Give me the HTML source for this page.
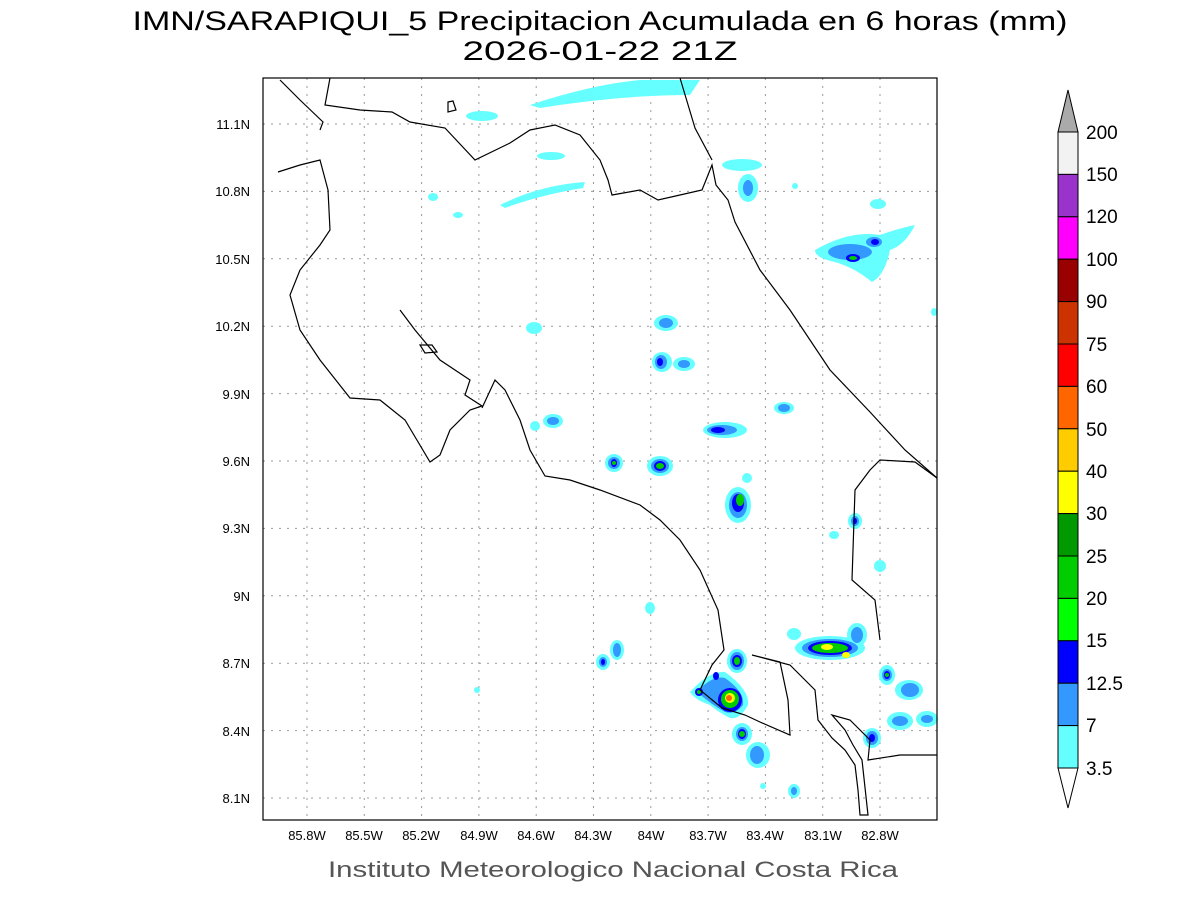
<!DOCTYPE html>
<html><head><meta charset="utf-8"><style>
body{margin:0;background:#fff;width:1200px;height:900px;overflow:hidden}
svg{display:block}
text{font-family:"Liberation Sans",sans-serif;fill:#000}
</style></head><body>
<svg width="1200" height="900" viewBox="0 0 1200 900">
<text x="600" y="30" font-size="27" text-anchor="middle" textLength="935" lengthAdjust="spacingAndGlyphs">IMN/SARAPIQUI_5 Precipitacion Acumulada en 6 horas (mm)</text>
<text x="600" y="60" font-size="27" text-anchor="middle" textLength="275" lengthAdjust="spacingAndGlyphs">2026-01-22 21Z</text>
<text x="613" y="877" font-size="22" text-anchor="middle" style="fill:#555" textLength="570" lengthAdjust="spacingAndGlyphs">Instituto Meteorologico Nacional Costa Rica</text>

<g stroke="#999" stroke-width="1" stroke-dasharray="2,6">
<line x1="307" y1="78" x2="307" y2="820"/><line x1="364.3" y1="78" x2="364.3" y2="820"/><line x1="421.6" y1="78" x2="421.6" y2="820"/><line x1="478.9" y1="78" x2="478.9" y2="820"/><line x1="536.2" y1="78" x2="536.2" y2="820"/><line x1="593.5" y1="78" x2="593.5" y2="820"/><line x1="650.8" y1="78" x2="650.8" y2="820"/><line x1="708.1" y1="78" x2="708.1" y2="820"/><line x1="765.4" y1="78" x2="765.4" y2="820"/><line x1="822.7" y1="78" x2="822.7" y2="820"/><line x1="880" y1="78" x2="880" y2="820"/>
<line x1="263" y1="124" x2="937" y2="124"/><line x1="263" y1="191.4" x2="937" y2="191.4"/><line x1="263" y1="258.8" x2="937" y2="258.8"/><line x1="263" y1="326.2" x2="937" y2="326.2"/><line x1="263" y1="393.6" x2="937" y2="393.6"/><line x1="263" y1="461" x2="937" y2="461"/><line x1="263" y1="528.4" x2="937" y2="528.4"/><line x1="263" y1="595.8" x2="937" y2="595.8"/><line x1="263" y1="663.2" x2="937" y2="663.2"/><line x1="263" y1="730.6" x2="937" y2="730.6"/><line x1="263" y1="798" x2="937" y2="798"/>
</g>

<g>
<g fill="#66ffff">
<path d="M530 105 Q590 85 640 80 L700 80 L690 95 Q620 95 540 108 Z"/>
<ellipse cx="482" cy="116" rx="16" ry="5"/>
<ellipse cx="551" cy="156" rx="14" ry="4"/>
<path d="M500 205 Q540 185 585 182 L583 188 Q540 195 505 208 Z"/>
<ellipse cx="433" cy="197" rx="5" ry="4"/><ellipse cx="458" cy="215" rx="5" ry="3"/>
<ellipse cx="742" cy="165" rx="20" ry="6"/><ellipse cx="748" cy="188" rx="10" ry="14"/>
<ellipse cx="795" cy="186" rx="3" ry="3"/><ellipse cx="878" cy="204" rx="8" ry="5"/>
<path d="M815 250 Q850 230 880 235 Q900 228 915 225 Q905 245 890 250 Q885 275 872 282 Q855 268 835 262 Q815 258 815 250 Z"/>
<ellipse cx="534" cy="328" rx="8" ry="6"/><ellipse cx="666" cy="323" rx="12" ry="8"/>
<ellipse cx="662" cy="362" rx="10" ry="10"/><ellipse cx="684" cy="364" rx="11" ry="7"/>
<ellipse cx="784" cy="408" rx="10" ry="6"/><ellipse cx="553" cy="421" rx="10" ry="7"/><ellipse cx="535" cy="426" rx="5" ry="5"/>
<ellipse cx="725" cy="430" rx="22" ry="8"/><ellipse cx="614" cy="463" rx="9" ry="9"/><ellipse cx="660" cy="466" rx="13" ry="10"/>
<ellipse cx="738" cy="505" rx="13" ry="18"/><ellipse cx="747" cy="478" rx="5" ry="5"/><ellipse cx="855" cy="521" rx="7" ry="8"/>
<ellipse cx="834" cy="535" rx="5" ry="4"/><ellipse cx="880" cy="566" rx="6" ry="6"/><ellipse cx="650" cy="608" rx="5" ry="6"/>
<ellipse cx="794" cy="634" rx="7" ry="6"/><ellipse cx="617" cy="650" rx="7" ry="10"/><ellipse cx="603" cy="662" rx="7" ry="8"/>
<ellipse cx="737" cy="661" rx="10" ry="12"/><ellipse cx="830" cy="648" rx="35" ry="12"/><ellipse cx="857" cy="635" rx="10" ry="12"/>
<path d="M690 692 Q710 670 725 672 Q750 690 748 705 Q740 720 730 718 Q718 712 710 705 Q695 700 690 692 Z"/>
<ellipse cx="742" cy="734" rx="10" ry="11"/><ellipse cx="758" cy="755" rx="12" ry="13"/><ellipse cx="887" cy="675" rx="8" ry="10"/>
<ellipse cx="909" cy="690" rx="14" ry="10"/><ellipse cx="900" cy="721" rx="13" ry="9"/><ellipse cx="927" cy="719" rx="11" ry="8"/>
<ellipse cx="872" cy="738" rx="9" ry="10"/><ellipse cx="794" cy="791" rx="6" ry="7"/><ellipse cx="763" cy="786" rx="3" ry="3"/>
<ellipse cx="934" cy="312" rx="3" ry="4"/><ellipse cx="477" cy="690" rx="3" ry="3"/>
</g>
<g fill="#3399ff">
<ellipse cx="748" cy="188" rx="5" ry="8"/><ellipse cx="850" cy="252" rx="22" ry="8"/><ellipse cx="874" cy="242" rx="8" ry="5"/>
<ellipse cx="666" cy="323" rx="7" ry="5"/><ellipse cx="661" cy="362" rx="6" ry="7"/><ellipse cx="684" cy="364" rx="6" ry="4"/>
<ellipse cx="784" cy="408" rx="6" ry="4"/><ellipse cx="553" cy="421" rx="6" ry="4"/><ellipse cx="722" cy="430" rx="15" ry="5"/>
<ellipse cx="614" cy="463" rx="6" ry="6"/><ellipse cx="660" cy="466" rx="9" ry="7"/><ellipse cx="738" cy="505" rx="9" ry="13"/>
<ellipse cx="855" cy="521" rx="4" ry="5"/><ellipse cx="617" cy="650" rx="4" ry="7"/><ellipse cx="603" cy="662" rx="4" ry="5"/>
<ellipse cx="737" cy="661" rx="7" ry="9"/><ellipse cx="830" cy="648" rx="28" ry="9"/><ellipse cx="857" cy="635" rx="6" ry="8"/>
<path d="M697 692 Q712 675 725 678 Q745 692 743 705 Q735 715 725 712 Q712 705 697 692 Z"/>
<ellipse cx="742" cy="734" rx="6" ry="7"/><ellipse cx="757" cy="755" rx="7" ry="9"/><ellipse cx="887" cy="675" rx="5" ry="6"/>
<ellipse cx="910" cy="690" rx="9" ry="7"/><ellipse cx="900" cy="721" rx="8" ry="5"/><ellipse cx="927" cy="719" rx="6" ry="4"/>
<ellipse cx="872" cy="738" rx="6" ry="7"/><ellipse cx="794" cy="791" rx="3" ry="4"/>
</g>
<g fill="#0000ff">
<ellipse cx="853" cy="258" rx="7" ry="4"/><ellipse cx="875" cy="242" rx="4" ry="3"/><ellipse cx="660" cy="362" rx="3" ry="4"/>
<ellipse cx="718" cy="430" rx="7" ry="3"/><ellipse cx="614" cy="463" rx="3" ry="4"/><ellipse cx="660" cy="466" rx="6" ry="5"/>
<ellipse cx="738" cy="503" rx="6" ry="9"/><ellipse cx="855" cy="521" rx="2" ry="3"/><ellipse cx="603" cy="662" rx="2" ry="3"/>
<ellipse cx="737" cy="661" rx="5" ry="6"/><ellipse cx="830" cy="648" rx="22" ry="7"/><ellipse cx="730" cy="700" rx="12" ry="12"/>
<ellipse cx="716" cy="676" rx="3" ry="4"/><ellipse cx="699" cy="692" rx="4" ry="4"/><ellipse cx="742" cy="734" rx="4" ry="5"/>
<ellipse cx="887" cy="675" rx="3" ry="4"/><ellipse cx="872" cy="738" rx="3" ry="4"/>
</g>
<g fill="#00cc00">
<ellipse cx="853" cy="258" rx="4" ry="2"/><ellipse cx="660" cy="466" rx="4" ry="3"/><ellipse cx="740" cy="500" rx="4" ry="6"/>
<ellipse cx="737" cy="661" rx="3" ry="4"/><ellipse cx="830" cy="648" rx="18" ry="5"/><ellipse cx="730" cy="699" rx="9" ry="9"/>
<ellipse cx="742" cy="734" rx="3" ry="3"/><ellipse cx="699" cy="692" rx="2" ry="2"/><ellipse cx="614" cy="463" rx="2" ry="2"/><ellipse cx="887" cy="675" rx="2" ry="2"/>
</g>
<g fill="#ffff00"><ellipse cx="827" cy="647" rx="6" ry="3"/><ellipse cx="846" cy="655" rx="4" ry="3"/><ellipse cx="730" cy="698" rx="5" ry="5"/></g>
<ellipse cx="729" cy="698" rx="3" ry="3" fill="#ff6600"/>
</g>

<g fill="none" stroke="#000" stroke-width="1.2">
<path d="M280 80 L300 100 L323 122 L320 130 M330 78 L325 105 L360 110 L392 112 L410 122 L445 128 L475 160 L510 143 L530 130 L555 125 L580 135 L600 160 L608 180 L612 195 L640 190 L658 200 L680 195 L702 190 L712 165 L716 185 L728 200 L735 222 L760 270 L790 310 L830 370 L870 412 L905 450 L937 478"/>
<path d="M680 78 L695 128 L712 160"/>
<path d="M278 172 L300 165 L320 160 L328 190 L330 230 L320 245 L300 270 L290 295 L300 330 L320 360 L350 398 L380 400 L405 420 L430 462 L440 455 L450 430 L470 410 L482 406 L465 395 L470 380 L440 360 L415 330 L400 310"/>
<path d="M482 408 L495 380 L505 390 L520 420 L530 450 L545 476 L570 480 L600 490 L640 505 L660 520 L680 540 L700 570 L718 610 L724 650 L712 665 L700 690 L722 708 L745 715 L760 722 L790 735 L788 700 L780 662 L752 655 L790 665 L815 690 L818 720 L832 738 L845 750 L855 765 L858 790 L860 815 L868 815 L862 760 L853 745 L845 730 L832 715 L850 720 L870 740 L868 760 L900 755 L937 755"/>
<path d="M937 478 L915 462 L880 460 L870 470 L855 490 L852 580 L875 600 L880 640"/>
<path d="M420 345 L432 345 L437 352 L425 353 Z"/>
<path d="M448 102 L453 101 L456 110 L448 112 Z"/>
</g>
<rect x="263" y="78" width="674" height="742" fill="none" stroke="#000" stroke-width="1.2"/>

<g font-size="13" text-anchor="middle">
<text x="307" y="840">85.8W</text><text x="364" y="840">85.5W</text><text x="421" y="840">85.2W</text><text x="479" y="840">84.9W</text><text x="536" y="840">84.6W</text><text x="593" y="840">84.3W</text><text x="651" y="840">84W</text><text x="708" y="840">83.7W</text><text x="765" y="840">83.4W</text><text x="823" y="840">83.1W</text><text x="880" y="840">82.8W</text>
</g>
<g font-size="13" text-anchor="end">
<text x="250" y="129">11.1N</text><text x="250" y="196">10.8N</text><text x="250" y="264">10.5N</text><text x="250" y="331">10.2N</text><text x="250" y="399">9.9N</text><text x="250" y="466">9.6N</text><text x="250" y="533">9.3N</text><text x="250" y="601">9N</text><text x="250" y="668">8.7N</text><text x="250" y="736">8.4N</text><text x="250" y="803">8.1N</text>
</g>

<g stroke="#000" stroke-width="1">
<polygon points="1058,132 1078,132 1068,90" fill="#aaaaaa"/>
<rect x="1058" y="132" width="20" height="42.4" fill="#f2f2f2"/>
<rect x="1058" y="174.4" width="20" height="42.4" fill="#9933cc"/>
<rect x="1058" y="216.8" width="20" height="42.4" fill="#ff00ff"/>
<rect x="1058" y="259.2" width="20" height="42.4" fill="#990000"/>
<rect x="1058" y="301.6" width="20" height="42.4" fill="#cc3300"/>
<rect x="1058" y="344" width="20" height="42.4" fill="#ff0000"/>
<rect x="1058" y="386.4" width="20" height="42.4" fill="#ff6600"/>
<rect x="1058" y="428.8" width="20" height="42.4" fill="#ffcc00"/>
<rect x="1058" y="471.2" width="20" height="42.4" fill="#ffff00"/>
<rect x="1058" y="513.6" width="20" height="42.4" fill="#009900"/>
<rect x="1058" y="556" width="20" height="42.4" fill="#00cc00"/>
<rect x="1058" y="598.4" width="20" height="42.4" fill="#00ff00"/>
<rect x="1058" y="640.8" width="20" height="42.4" fill="#0000ff"/>
<rect x="1058" y="683.2" width="20" height="42.4" fill="#3399ff"/>
<rect x="1058" y="725.6" width="20" height="42.4" fill="#66ffff"/>
<polygon points="1058,768 1078,768 1068,808" fill="#fff"/>
</g>
<g font-size="19">
<text x="1086" y="139">200</text><text x="1086" y="181">150</text><text x="1086" y="223">120</text><text x="1086" y="266">100</text><text x="1086" y="308">90</text><text x="1086" y="351">75</text><text x="1086" y="393">60</text><text x="1086" y="436">50</text><text x="1086" y="478">40</text><text x="1086" y="520">30</text><text x="1086" y="563">25</text><text x="1086" y="605">20</text><text x="1086" y="647">15</text><text x="1086" y="690">12.5</text><text x="1086" y="732">7</text><text x="1086" y="775">3.5</text>
</g>
</svg>
</body></html>
